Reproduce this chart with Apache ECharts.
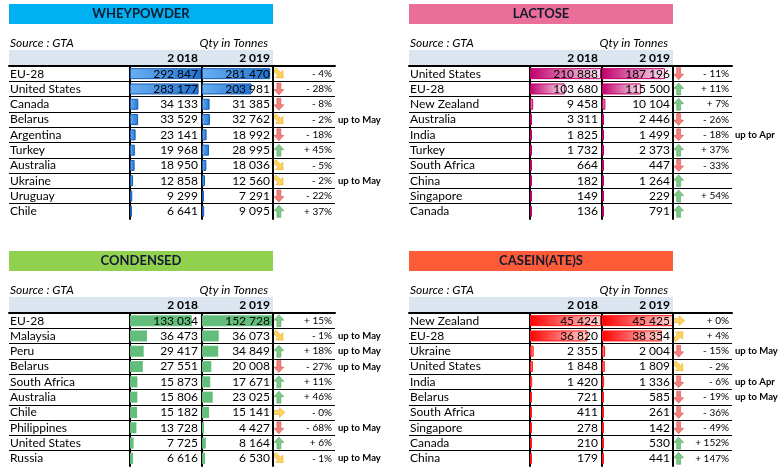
<!DOCTYPE html>
<html>
<head>
<meta charset="utf-8">
<script src="https://cdn.jsdelivr.net/npm/echarts/dist/echarts.min.js"></script>
<style>
  html, body { margin: 0; padding: 0; background: #fff; }
  #chart { width: 780px; height: 475px; }
</style>
</head>
<body>
<div id="chart"></div>
<script>
var years = [2018, 2019];

var wheyCountries = ['EU-28', 'United States', 'Canada', 'Belarus', 'Argentina', 'Turkey', 'Australia', 'Ukraine', 'Uruguay', 'Chile'];
var whey2018 = [292847, 283177, 34133, 33529, 23141, 19968, 18950, 12858, 9299, 6641];
var whey2019 = [281470, 203981, 31385, 32762, 18992, 28995, 18036, 12560, 7291, 9095];
var wheyChange = ['- 4%', '- 28%', '- 8%', '- 2%', '- 18%', '+ 45%', '- 5%', '- 2%', '- 22%', '+ 37%'];
var wheyNotes = ['', '', '', 'up to May', '', '', '', 'up to May', '', ''];

var lactoseCountries = ['United States', 'EU-28', 'New Zealand', 'Australia', 'India', 'Turkey', 'South Africa', 'China', 'Singapore', 'Canada'];
var lactose2018 = [210888, 103680, 9458, 3311, 1825, 1732, 664, 182, 149, 136];
var lactose2019 = [187196, 115500, 10104, 2446, 1499, 2373, 447, 1264, 229, 791];
var lactoseChange = ['- 11%', '+ 11%', '+ 7%', '- 26%', '- 18%', '+ 37%', '- 33%', '', '+ 54%', ''];
var lactoseNotes = ['', '', '', '', 'up to Apr', '', '', '', '', ''];

var condCountries = ['EU-28', 'Malaysia', 'Peru', 'Belarus', 'South Africa', 'Australia', 'Chile', 'Philippines', 'United States', 'Russia'];
var cond2018 = [133034, 36473, 29417, 27551, 15873, 15806, 15182, 13728, 7725, 6616];
var cond2019 = [152728, 36073, 34849, 20008, 17671, 23025, 15141, 4427, 8164, 6530];
var condChange = ['+ 15%', '- 1%', '+ 18%', '- 27%', '+ 11%', '+ 46%', '- 0%', '- 68%', '+ 6%', '- 1%'];
var condNotes = ['', 'up to May', 'up to May', 'up to May', '', '', '', 'up to May', '', 'up to May'];

var caseinCountries = ['New Zealand', 'EU-28', 'Ukraine', 'United States', 'India', 'Belarus', 'South Africa', 'Singapore', 'Canada', 'China'];
var casein2018 = [45424, 36820, 2355, 1848, 1420, 721, 411, 278, 210, 179];
var casein2019 = [45425, 38354, 2004, 1809, 1336, 585, 261, 142, 530, 441];
var caseinChange = ['+ 0%', '+ 4%', '- 15%', '- 2%', '- 6%', '- 19%', '- 36%', '- 49%', '+ 152%', '+ 147%'];
var caseinNotes = ['', '', 'up to May', '', 'up to Apr', 'up to May', '', '', '', ''];

// ---- look ----
var FONT = 'Lato';
var ROW_H = 15.3;
var ARROW_X = 0.08;

function grad(a, b) {
  return new echarts.graphic.LinearGradient(0, 0, 1, 0, [
    { offset: 0, color: a }, { offset: 1, color: b }
  ]);
}

var panels = [
  { title: 'WHEYPOWDER', head: '#00b0f0', x0: 9, y0: 4, w: 326,
    countries: wheyCountries, v18: whey2018, v19: whey2019, change: wheyChange, notes: wheyNotes,
    bar: { color: grad('#6aaef0', '#1f74d4'), borderColor: '#1a5fb4', borderWidth: 1 } },
  { title: 'LACTOSE', head: '#ea6f98', x0: 409, y0: 4, w: 323,
    countries: lactoseCountries, v18: lactose2018, v19: lactose2019, change: lactoseChange, notes: lactoseNotes,
    bar: { color: grad('#c0006c', '#fbe4ef'), borderColor: '#c0006c', borderWidth: 1 } },
  { title: 'CONDENSED', head: '#92d050', x0: 9, y0: 251, w: 326,
    countries: condCountries, v18: cond2018, v19: cond2019, change: condChange, notes: condNotes,
    bar: { color: '#63be7b' } },
  { title: 'CASEIN(ATE)S', head: '#fe5b38', x0: 409, y0: 251, w: 323,
    countries: caseinCountries, v18: casein2018, v19: casein2019, change: caseinChange, notes: caseinNotes,
    bar: { color: grad('#ff0000', '#ffd6d6'), borderColor: '#ff1a1a', borderWidth: 1 } }
];

var ARROWS = {
  up:        { rot: 0,    color: '#5fb86a', border: '#3f9a4c' },
  upRight:   { rot: -45,  color: '#ffc83a', border: '#e89c00' },
  right:     { rot: -90,  color: '#ffc83a', border: '#e89c00' },
  downRight: { rot: -135, color: '#ffc83a', border: '#e89c00' },
  down:      { rot: 180,  color: '#f0605c', border: '#d03c3c' }
};
var ARROW_PATH = 'path://M5,0 L10,5.5 L7,5.5 L7,12 L3,12 L3,5.5 L0,5.5 Z';

function arrowKind(a, b) {
  var r = (b - a) / a;
  if (r >= 0.05) return 'up';
  if (r >= 0.005) return 'upRight';
  if (r > -0.005) return 'right';
  if (r > -0.055) return 'downRight';
  return 'down';
}

function fmt(v) {
  return String(v).replace(/\B(?=(\d{3})+(?!\d))/g, ' ');
}

var grids = [], xAxes = [], yAxes = [], series = [], graphics = [];

function hiddenX(gi, max) {
  return { gridIndex: gi, type: 'value', min: 0, max: max, show: false };
}

// category axis with every row shown
function rowAxis(gi, data, extra) {
  var ax = {
    gridIndex: gi, type: 'category', inverse: true, data: data,
    axisLine: { show: false }, axisTick: { show: false, interval: 0 },
    axisLabel: { show: false, interval: 0 },
    splitLine: { show: false, interval: 0 }
  };
  for (var k in extra) {
    if (typeof extra[k] === 'object' && ax[k]) Object.assign(ax[k], extra[k]);
    else ax[k] = extra[k];
  }
  return ax;
}

panels.forEach(function (p) {
  var top = p.y0 + 62, h = ROW_H * 10;
  var maxV = Math.max(Math.max.apply(null, p.v18), Math.max.apply(null, p.v19));
  var g0 = grids.length;

  // background grid: names, row lines, thick top line
  grids.push({ left: p.x0, top: top, width: p.w, height: h, outerBoundsMode: 'none' });
  xAxes.push({
    gridIndex: g0, type: 'value', min: 0, max: 1, position: 'top',
    axisLine: { show: true, lineStyle: { color: '#000', width: 2 } },
    axisTick: { show: false }, axisLabel: { show: false }, splitLine: { show: false }
  });
  yAxes.push(rowAxis(g0, p.countries, {
    axisLabel: { show: true, inside: true, margin: 1, color: '#000', fontFamily: FONT, fontSize: 12 },
    splitLine: { show: true, showMinLine: false, showMaxLine: false, lineStyle: { color: '#000', width: 1 } }
  }));

  // two year columns with data bars
  [p.v18, p.v19].forEach(function (vals, c) {
    var gi = grids.length;
    grids.push({ left: p.x0 + 121 + c * 72, top: top, width: 71, height: h, outerBoundsMode: 'none' });
    var xi = xAxes.length;
    xAxes.push(hiddenX(gi, maxV));
    var yi = yAxes.length;
    yAxes.push(rowAxis(gi, p.countries, {
      axisLine: { show: true, lineStyle: { color: '#000', width: 2 } }
    }));
    yAxes.push(rowAxis(gi, vals.map(fmt), {
      position: 'right', z: 10,
      axisLine: { show: c === 1, lineStyle: { color: '#000', width: 2 } },
      axisLabel: { show: true, inside: true, margin: 3, color: '#000', fontFamily: FONT, fontSize: 12 }
    }));
    series.push({
      type: 'bar', xAxisIndex: xi, yAxisIndex: yi, data: vals,
      barWidth: 11, barMinHeight: 2, silent: true,
      itemStyle: p.bar
    });
  });

  // arrows, change %, notes
  var ga = grids.length;
  grids.push({ left: p.x0 + 265, top: top, width: p.w - 265, height: h, outerBoundsMode: 'none' });
  var xa = xAxes.length;
  xAxes.push(hiddenX(ga, 1));
  var ya = yAxes.length;
  yAxes.push(rowAxis(ga, p.change, {
    position: 'right',
    axisLabel: { show: true, inside: true, margin: 3, color: '#000', fontFamily: FONT, fontSize: 10 }
  }));
  yAxes.push(rowAxis(ga, p.notes, {
    position: 'right',
    axisLabel: { show: true, margin: 3, color: '#000', fontFamily: FONT, fontSize: 9.5, fontWeight: 'bold' }
  }));
  series.push({
    type: 'scatter', xAxisIndex: xa, yAxisIndex: ya, silent: true,
    symbol: ARROW_PATH, symbolSize: [10, 12],
    data: p.v18.map(function (a, i) {
      var k = ARROWS[arrowKind(a, p.v19[i])];
      return {
        value: [ARROW_X, i], symbolRotate: k.rot,
        itemStyle: { color: k.color, borderColor: k.border, borderWidth: 0.6 }
      };
    })
  });

  // heading block
  graphics.push(
    { type: 'rect', shape: { x: p.x0, y: p.y0, width: 264, height: 20 }, style: { fill: p.head } },
    { type: 'text', x: p.x0 + 132, y: p.y0 + 10,
      style: { text: p.title, fill: '#111a30', font: 'bold 13px ' + FONT, textAlign: 'center', textVerticalAlign: 'middle' } },
    { type: 'text', x: p.x0 + 1, y: p.y0 + 39,
      style: { text: 'Source : GTA', fill: '#000', font: 'italic 12px ' + FONT, textAlign: 'left', textVerticalAlign: 'middle' } },
    { type: 'text', x: p.x0 + 259, y: p.y0 + 39,
      style: { text: 'Qty in Tonnes', fill: '#000', font: 'italic 12px ' + FONT, textAlign: 'right', textVerticalAlign: 'middle' } },
    { type: 'rect', shape: { x: p.x0, y: p.y0 + 46, width: 264, height: 15 }, style: { fill: '#dce6f1' } }
  );
  years.forEach(function (yr, c) {
    graphics.push({ type: 'text', x: p.x0 + 189 + c * 72, y: p.y0 + 54, z: 5,
      style: { text: fmt(yr), fill: '#000', font: 'bold 12px ' + FONT, textAlign: 'right', textVerticalAlign: 'middle' } });
  });
});

var chart = echarts.init(document.getElementById('chart'), null, { renderer: 'canvas' });
chart.setOption({
  backgroundColor: '#ffffff',
  animation: false,
  graphic: { elements: graphics },
  grid: grids,
  xAxis: xAxes,
  yAxis: yAxes,
  series: series
});
</script>
</body>
</html>
